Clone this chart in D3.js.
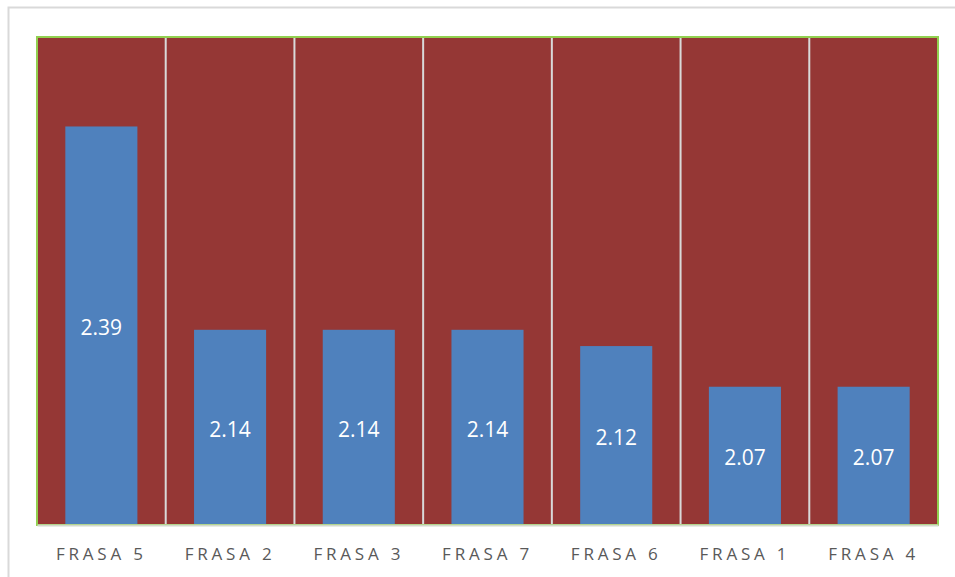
<!DOCTYPE html>
<html>
<head>
<meta charset="utf-8">
<script src="https://cdn.jsdelivr.net/npm/d3@7"></script>
<style>
  body { margin: 0; background: #fff; }
  svg { display: block; }
</style>
</head>
<body>
<div id="chart"></div>
<script>
var categories = ['FRASA 5', 'FRASA 2', 'FRASA 3', 'FRASA 7', 'FRASA 6', 'FRASA 1', 'FRASA 4'];
var values = [2.39, 2.14, 2.14, 2.14, 2.12, 2.07, 2.07];
var yDomain = [1.9, 2.5];

var width = 955,
    height = 577,
    marginTop = 37,
    marginLeft = 37,
    marginRight = 17,
    marginBottom = 52;

var svg = d3.select('#chart')
  .append('svg')
  .attr('width', width)
  .attr('height', height);

// outer chart frame (runs off the right/bottom edge)
svg.append('rect')
  .attr('x', 8.5)
  .attr('y', 7.5)
  .attr('width', 980)
  .attr('height', 620)
  .attr('fill', '#fff')
  .attr('stroke', '#d9d9d9')
  .attr('stroke-width', 2);

var x = d3.scaleBand()
  .domain(categories)
  .range([marginLeft, width - marginRight])
  .paddingInner(0.44)
  .paddingOuter(0.22);

var y = d3.scaleLinear()
  .domain(yDomain)
  .range([height - marginBottom, marginTop]);

var plotW = width - marginRight - marginLeft,
    plotH = height - marginBottom - marginTop,
    step = x.step();

svg.append('rect')
  .attr('x', marginLeft)
  .attr('y', marginTop)
  .attr('width', plotW)
  .attr('height', plotH)
  .attr('fill', '#953735');

// vertical gridlines between categories
svg.selectAll('line.grid')
  .data(categories.slice(1)).enter()
  .append('line')
  .attr('class', 'grid')
  .attr('x1', function (d) { return x(d) - step * x.paddingInner() / 2; })
  .attr('x2', function (d) { return x(d) - step * x.paddingInner() / 2; })
  .attr('y1', marginTop)
  .attr('y2', height - marginBottom)
  .attr('stroke', '#d9d9d9')
  .attr('stroke-width', 2);

svg.selectAll('rect.bar')
  .data(values).enter()
  .append('rect')
  .attr('class', 'bar')
  .attr('x', function (d, i) { return x(categories[i]); })
  .attr('y', function (d) { return y(d); })
  .attr('width', x.bandwidth())
  .attr('height', function (d) { return y(yDomain[0]) - y(d); })
  .attr('fill', '#4f81bd');

svg.selectAll('text.value')
  .data(values).enter()
  .append('text')
  .attr('class', 'value')
  .attr('x', function (d, i) { return x(categories[i]) + x.bandwidth() / 2; })
  .attr('y', function (d) { return (y(d) + y(yDomain[0])) / 2 + 2; })
  .attr('dy', '0.35em')
  .attr('text-anchor', 'middle')
  .attr('fill', '#fff')
  .style('font-family', '"Open Sans", sans-serif')
  .style('font-size', '21px')
  .text(function (d) { return d.toFixed(2); });

// plot border (green) and bottom axis line
svg.append('rect')
  .attr('x', marginLeft)
  .attr('y', marginTop)
  .attr('width', plotW)
  .attr('height', plotH)
  .attr('fill', 'none')
  .attr('stroke', '#92d050')
  .attr('stroke-width', 2);

var xAxis = svg.append('g')
  .attr('transform', 'translate(0,' + (height - marginBottom) + ')')
  .call(d3.axisBottom(x).tickSize(0).tickPadding(23));

xAxis.select('.domain')
  .attr('stroke', '#d3d9cc')
  .attr('stroke-width', 2);

xAxis.selectAll('text')
  .attr('fill', '#595959')
  .style('font-family', '"Open Sans", sans-serif')
  .style('font-size', '17px')
  .style('letter-spacing', '3.8px');
</script>
</body>
</html>
